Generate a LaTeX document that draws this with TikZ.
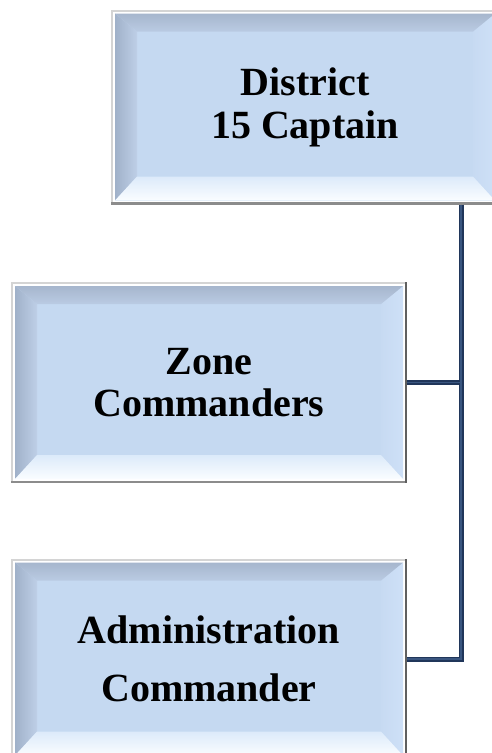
\documentclass[tikz,border=0pt]{standalone}
\usepackage{fontspec}
\setmainfont{Liberation Serif}
\usetikzlibrary{calc}

\definecolor{boxfill}{RGB}{197,217,241}
\definecolor{framelight}{RGB}{212,212,212}
\definecolor{framedark}{RGB}{96,96,96}
\definecolor{framemid}{RGB}{140,140,140}
\definecolor{bevtop}{RGB}{166,182,205}
\definecolor{bevtopin}{RGB}{186,203,227}
\definecolor{bevleft}{RGB}{160,177,201}
\definecolor{bevleftin}{RGB}{190,207,231}
\definecolor{bevright}{RGB}{206,224,247}
\definecolor{bevrightin}{RGB}{199,218,242}
\definecolor{bevbot}{RGB}{250,253,255}
\definecolor{bevbotin}{RGB}{220,234,250}
\definecolor{linkcol}{RGB}{32,54,90}
\definecolor{linkhi}{RGB}{58,86,128}

% frame thickness and bevel depths (top, sides, bottom)
\newcommand{\frm}{4}
\newcommand{\bvt}{18}
\newcommand{\bvs}{22}
\newcommand{\bvb}{24}

\tikzset{
  bevelbox/.style={
    rectangle, inner sep=0pt, align=center,
    font=\bfseries\fontsize{40}{42}\selectfont,
    fill=white, draw=none,
    path picture={
      \coordinate (pnw) at (path picture bounding box.north west);
      \coordinate (pne) at (path picture bounding box.north east);
      \coordinate (psw) at (path picture bounding box.south west);
      \coordinate (pse) at (path picture bounding box.south east);
      % raised frame: light top-left, dark bottom-right
      \fill[framelight] (pnw) rectangle ($(pne)+(0,2)$);
      \fill[framelight] (pnw) rectangle ($(psw)+(2,0)$);
      \fill[framemid] ($(psw)+(0,-2.5)$) rectangle (pse);
      \fill[framedark] ($(pne)+(-2.5,0)$) rectangle (pse);
      % inner face corners
      \coordinate (inw) at ($(pnw)+(\frm,\frm)$);
      \coordinate (ine) at ($(pne)+(-\frm,\frm)$);
      \coordinate (isw) at ($(psw)+(\frm,-\frm)$);
      \coordinate (ise) at ($(pse)+(-\frm,-\frm)$);
      \fill[boxfill] (inw) rectangle (ise);
      % left bevel
      \shade[left color=bevleft, right color=bevleftin]
        (inw) -- ($(inw)+(\bvs,\bvt)$) -- ($(isw)+(\bvs,-\bvb)$) -- (isw) -- cycle;
      % right bevel
      \shade[left color=bevrightin, right color=bevright]
        (ine) -- ($(ine)+(-\bvs,\bvt)$) -- ($(ise)+(-\bvs,-\bvb)$) -- (ise) -- cycle;
      % top bevel
      \shade[top color=bevtop, bottom color=bevtopin]
        (inw) -- (ine) -- ($(ine)+(-\bvs,\bvt)$) -- ($(inw)+(\bvs,\bvt)$) -- cycle;
      % bottom bevel
      \shade[top color=bevbotin, bottom color=bevbot]
        (isw) -- (ise) -- ($(ise)+(-\bvs,-\bvb)$) -- ($(isw)+(\bvs,-\bvb)$) -- cycle;
    }
  },
  link/.style={draw=linkcol, line width=5pt},
  linkshine/.style={draw=linkhi, line width=1.6pt}
}

\begin{document}
\begin{tikzpicture}[x=1pt, y=-1pt]
  \useasboundingbox (0,0) rectangle (492,753);

  \node[bevelbox, minimum width=388pt, minimum height=195pt] (captain) at (305,107)
    {District\\[1pt]15 Captain};
  \node[bevelbox, minimum width=396pt, minimum height=201pt] (zone) at (209,382.5)
    {Zone\\[0pt]Commanders};
  \node[bevelbox, minimum width=396pt, minimum height=201pt] (admin) at (209,659)
    {Administration\\[16pt]Commander};

  \coordinate (spine) at (461,400);

  % reporting lines
  \draw[link] (captain.south -| spine) |- (admin.east);
  \draw[link] (zone.east) -- (zone.east -| spine);
  \draw[linkshine] (captain.south -| spine) |- (admin.east);
  \draw[linkshine] (zone.east) -- (zone.east -| spine);
\end{tikzpicture}
\end{document}
